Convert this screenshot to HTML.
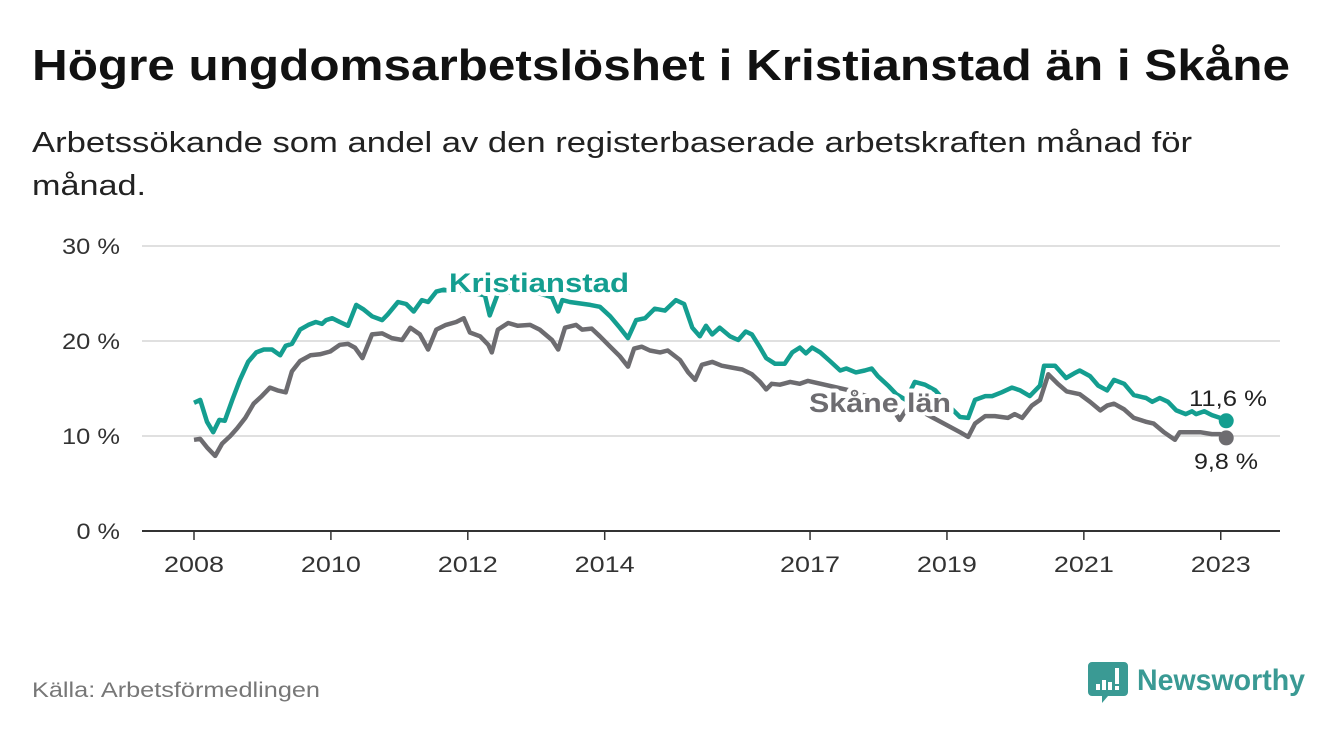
<!DOCTYPE html>
<html><head><meta charset="utf-8">
<style>
html,body{margin:0;padding:0;background:#fff;}
svg{display:block;font-family:"Liberation Sans",sans-serif;}
</style></head>
<body>
<svg id="chart" width="1340" height="734" viewBox="0 0 1340 734" xmlns="http://www.w3.org/2000/svg">
<text x="32" y="80" font-size="44" font-weight="bold" fill="#111" textLength="1258" lengthAdjust="spacingAndGlyphs">Högre ungdomsarbetslöshet i Kristianstad än i Skåne</text>
<text x="32" y="152" font-size="29" fill="#222" textLength="1160" lengthAdjust="spacingAndGlyphs">Arbetssökande som andel av den registerbaserade arbetskraften månad för</text>
<text x="32" y="195" font-size="29" fill="#222" textLength="114" lengthAdjust="spacingAndGlyphs">månad.</text>
<g id="grid"></g>
<g id="series"></g>
<g id="labels"></g>
<text x="32" y="697" font-size="21" fill="#777" textLength="288" lengthAdjust="spacingAndGlyphs">Källa: Arbetsförmedlingen</text>
<g>
<path d="M1092,662 h32 a4,4 0 0 1 4,4 v26 a4,4 0 0 1 -4,4 h-16 l-6,7 v-7 h-10 a4,4 0 0 1 -4,-4 v-26 a4,4 0 0 1 4,-4z" fill="#3a9a94"/>
<rect x="1096" y="684" width="4" height="6" fill="#fff"/><rect x="1102" y="680" width="4" height="10" fill="#fff"/><rect x="1108" y="682" width="4" height="8" fill="#fff"/><rect x="1115" y="668" width="4" height="16" fill="#fff"/><rect x="1115" y="686" width="4" height="4" fill="#fff"/>
<text x="1137" y="690" font-size="30" fill="#3a9a94" font-weight="bold" textLength="168" lengthAdjust="spacingAndGlyphs">Newsworthy</text>
</g>
</svg>
<script>
const yTicks = [0, 10, 20, 30];
const yTickLabels = ["0 %", "10 %", "20 %", "30 %"];
const xTicks = [2008, 2010, 2012, 2014, 2017, 2019, 2021, 2023];
const kDates = [2008.0,2008.09,2008.19,2008.28,2008.37,2008.45,2008.56,2008.67,2008.79,2008.91,2009.02,2009.14,2009.26,2009.34,2009.43,2009.55,2009.67,2009.78,2009.87,2009.93,2010.02,2010.13,2010.25,2010.37,2010.48,2010.60,2010.75,2010.83,2010.98,2011.10,2011.21,2011.33,2011.42,2011.54,2011.65,2011.77,2011.92,2012.12,2012.25,2012.32,2012.44,2012.70,2013.05,2013.23,2013.32,2013.38,2013.49,2013.79,2013.93,2014.08,2014.22,2014.34,2014.46,2014.59,2014.73,2014.88,2015.04,2015.16,2015.28,2015.39,2015.48,2015.57,2015.68,2015.83,2015.95,2016.06,2016.15,2016.27,2016.36,2016.49,2016.63,2016.74,2016.85,2016.94,2017.03,2017.15,2017.29,2017.44,2017.53,2017.67,2017.80,2017.90,2017.99,2018.14,2018.26,2018.40,2018.53,2018.68,2018.83,2019.05,2019.19,2019.31,2019.41,2019.56,2019.66,2019.80,2019.95,2020.07,2020.21,2020.36,2020.42,2020.58,2020.74,2020.86,2020.94,2021.09,2021.21,2021.34,2021.44,2021.59,2021.73,2021.91,2022.00,2022.11,2022.23,2022.35,2022.49,2022.58,2022.64,2022.76,2022.87,2022.99,2023.08];
const kValues = [13.5,13.8,11.5,10.4,11.7,11.6,13.8,15.9,17.8,18.8,19.1,19.1,18.5,19.5,19.7,21.2,21.7,22.0,21.8,22.2,22.4,22.0,21.6,23.8,23.3,22.6,22.2,22.8,24.1,23.9,23.1,24.3,24.1,25.2,25.4,25.2,25.3,25.0,24.8,22.7,25.0,25.2,25.0,24.6,23.1,24.3,24.1,23.8,23.6,22.6,21.4,20.3,22.2,22.4,23.4,23.2,24.3,23.9,21.4,20.5,21.6,20.7,21.4,20.5,20.1,21.0,20.7,19.3,18.2,17.6,17.6,18.8,19.3,18.7,19.3,18.8,17.9,16.9,17.1,16.7,16.9,17.1,16.3,15.3,14.4,13.8,15.7,15.4,14.8,13.0,12.0,11.9,13.8,14.2,14.2,14.6,15.1,14.8,14.2,15.3,17.4,17.4,16.1,16.6,16.9,16.3,15.3,14.8,15.9,15.5,14.3,14.0,13.6,14.0,13.6,12.7,12.3,12.6,12.3,12.6,12.2,11.9,11.6];
const sDates = [2008.0,2008.09,2008.19,2008.31,2008.41,2008.53,2008.63,2008.75,2008.87,2008.99,2009.11,2009.22,2009.34,2009.43,2009.55,2009.70,2009.84,2009.99,2010.13,2010.25,2010.35,2010.46,2010.60,2010.75,2010.89,2011.04,2011.16,2011.30,2011.42,2011.54,2011.68,2011.83,2011.94,2012.03,2012.18,2012.30,2012.35,2012.44,2012.59,2012.73,2012.91,2013.05,2013.23,2013.32,2013.42,2013.58,2013.67,2013.81,2013.93,2014.08,2014.22,2014.34,2014.43,2014.54,2014.66,2014.81,2014.92,2015.10,2015.22,2015.32,2015.42,2015.57,2015.71,2015.86,2016.01,2016.15,2016.27,2016.36,2016.44,2016.56,2016.71,2016.85,2016.97,2017.58,2018.17,2018.31,2018.45,2018.80,2019.19,2019.31,2019.41,2019.56,2019.70,2019.89,2019.99,2020.10,2020.24,2020.36,2020.48,2020.62,2020.75,2020.94,2021.09,2021.24,2021.34,2021.44,2021.59,2021.73,2021.91,2022.02,2022.17,2022.33,2022.40,2022.70,2022.87,2022.99,2023.08];
const sValues = [9.6,9.7,8.8,7.9,9.2,10.0,10.8,11.9,13.4,14.2,15.1,14.8,14.6,16.8,17.9,18.5,18.6,18.9,19.6,19.7,19.3,18.2,20.7,20.8,20.3,20.1,21.4,20.7,19.1,21.2,21.7,22.0,22.4,20.9,20.5,19.6,18.8,21.2,21.9,21.6,21.7,21.2,20.1,19.1,21.4,21.7,21.2,21.3,20.5,19.4,18.4,17.3,19.2,19.4,19.0,18.8,19.0,18.0,16.7,15.9,17.5,17.8,17.4,17.2,17.0,16.5,15.7,14.9,15.5,15.4,15.7,15.5,15.8,14.8,13.3,11.7,13.3,11.9,10.4,9.9,11.3,12.1,12.1,11.9,12.3,11.9,13.2,13.8,16.5,15.5,14.7,14.4,13.6,12.7,13.2,13.4,12.8,11.9,11.5,11.3,10.4,9.6,10.4,10.4,10.2,10.2,9.8];

const NS = "http://www.w3.org/2000/svg";
const X0 = 194, XPY = 68.45, Y0 = 531, YPU = 9.5;
const xs = d => X0 + (d - 2008) * XPY;
const ys = v => Y0 - v * YPU;
function mk(tag, attrs, parent) {
  const e = document.createElementNS(NS, tag);
  for (const k in attrs) e.setAttribute(k, attrs[k]);
  parent.appendChild(e); return e;
}
const grid = document.getElementById('grid');
yTicks.forEach((t, i) => {
  const l = mk('line', {x1: 142, x2: 1280, y1: ys(t), y2: ys(t), stroke: t === 0 ? '#333' : '#d6d6d6', 'stroke-width': t === 0 ? 2 : 1.5}, grid);
  
  
  const lbl = yTickLabels[i];
  const tx = mk('text', {x: 120, y: ys(t) + 8, 'text-anchor': 'end', 'font-size': 22, fill: '#333', textLength: lbl.length * 14.5, lengthAdjust: 'spacingAndGlyphs'}, grid);
  tx.textContent = lbl;
  
  
});
xTicks.forEach(t => {
  const l = mk('line', {x1: xs(t), x2: xs(t), y1: Y0, y2: Y0 + 9, stroke: '#333', 'stroke-width': 1.5}, grid);
  
  
  const tx = mk('text', {x: xs(t), y: 572, 'text-anchor': 'middle', 'font-size': 22, fill: '#333', textLength: 60, lengthAdjust: 'spacingAndGlyphs'}, grid);
  tx.textContent = String(t);
  
  
});
const ser = document.getElementById('series');
function line(dates, vals, color, name) {
  const d = dates.map((t, i) => (i ? 'L' : 'M') + xs(t).toFixed(1) + ',' + ys(vals[i]).toFixed(1)).join(' ');
  const p = mk('path', {d: d, fill: 'none', stroke: color, 'stroke-width': 4.5, 'stroke-linejoin': 'round'}, ser);
  
  
  const n = dates.length - 1;
  const c = mk('circle', {cx: xs(dates[n]), cy: ys(vals[n]), r: 7.5, fill: color}, ser);
  
  
}
line(sDates, sValues, '#6d6c70', 'skane-line');
line(kDates, kValues, '#149e90', 'kristianstad-line');
const lab = document.getElementById('labels');
function label(txt, x, y, color, anchor, bold, name, halo, len) {
  const t = mk('text', {x: x, y: y, fill: color, 'font-size': bold ? 27 : 22, 'font-weight': bold ? 'bold' : 'normal', 'text-anchor': anchor, stroke: halo ? '#fff' : 'none', 'stroke-width': halo ? 8 : 0, 'paint-order': 'stroke', 'stroke-linejoin': 'round', textLength: len, lengthAdjust: 'spacingAndGlyphs'}, lab);
  t.textContent = txt;
  
  
}
label('Kristianstad', 449, 292, '#149e90', 'start', true, 'kristianstad-label', true, 180);
label('Skåne län', 809, 412, '#6d6c70', 'start', true, 'skane-label', true, 142);
const kl = kValues[kValues.length - 1], sl = sValues[sValues.length - 1];
label(kl.toFixed(1).replace('.', ',') + ' %', 1267, ys(kl) - 15, '#222', 'end', false, 'kristianstad-end-value', false, 78);
label(sl.toFixed(1).replace('.', ',') + ' %', 1258, ys(sl) + 31, '#222', 'end', false, 'skane-end-value', false, 64);
</script>
</body></html>
